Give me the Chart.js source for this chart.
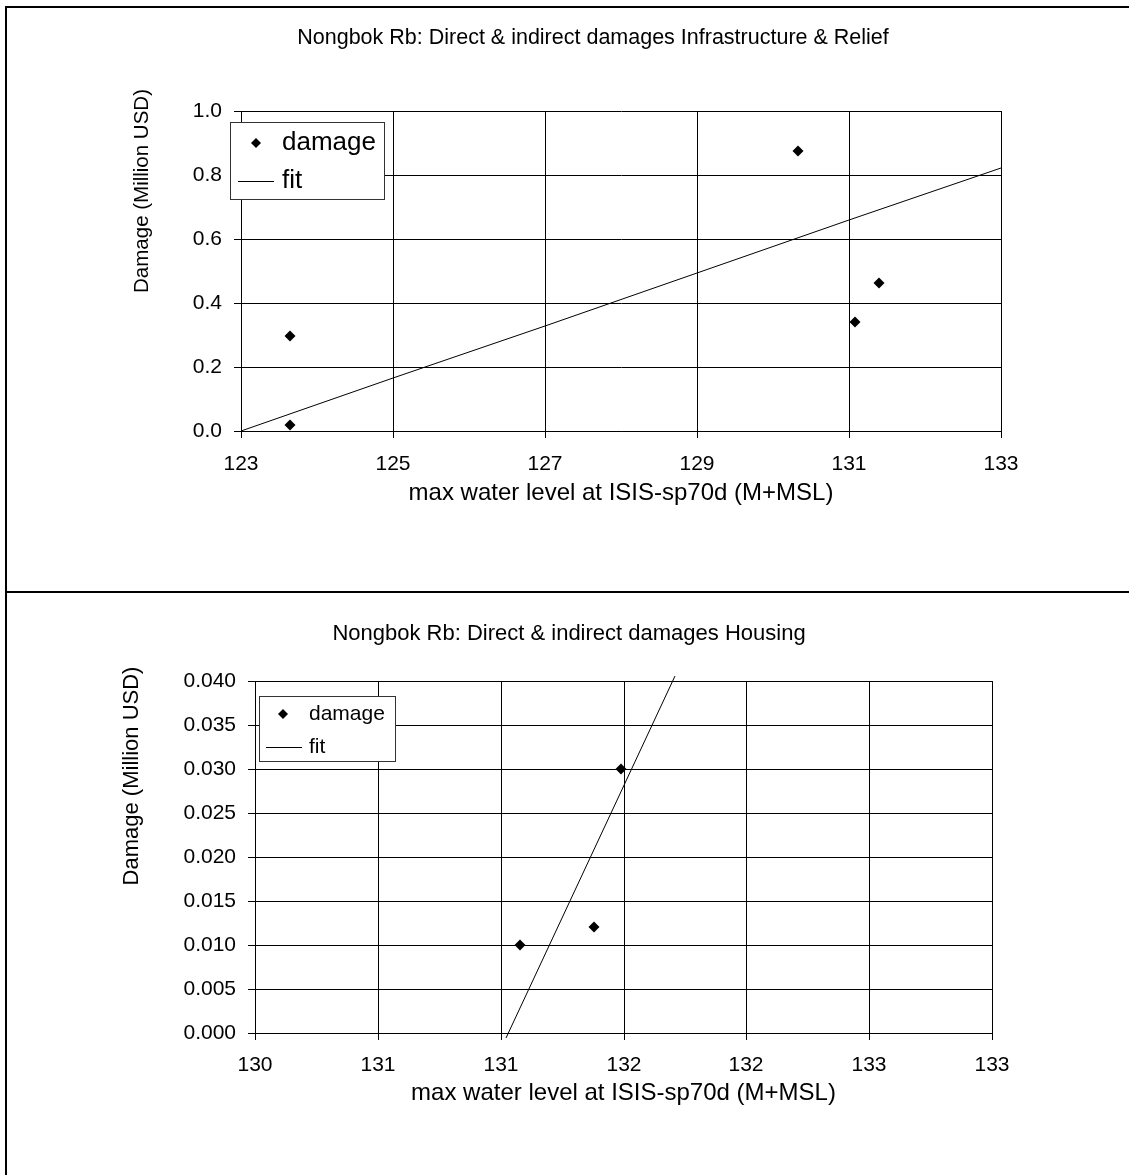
<!DOCTYPE html>
<html>
<head>
<meta charset="utf-8">
<script src="https://cdn.jsdelivr.net/npm/chart.js@4.4.1/dist/chart.umd.min.js"></script>
<style>
    html, body { margin: 0; padding: 0; background: #fff; }
    #page { position: relative; width: 1129px; height: 1175px; overflow: hidden; }
    #chartFirst { position: absolute; left: 0; top: 0; }
    #chartSecond { position: absolute; left: 0; top: 593px; }
    .rule { position: absolute; background: #000; }
</style>
</head>
<body>
<div id="page">
    <canvas id="chartFirst" width="1129" height="592"></canvas>
    <canvas id="chartSecond" width="1129" height="582"></canvas>
    <div class="rule" style="left:5px; top:6px; width:1130px; height:2px;"></div>
    <div class="rule" style="left:5px; top:6px; width:2px; height:1175px;"></div>
    <div class="rule" style="left:5px; top:591px; width:1130px; height:2px;"></div>
</div>
<script>
// upper chart: infrastructure & relief
const infraTitle = 'Nongbok Rb: Direct & indirect damages Infrastructure & Relief';
const infraLevel = [123.65, 123.65, 130.33, 131.08, 131.39];
const infraDamage = [0.298, 0.019, 0.875, 0.340, 0.463];
const infraFitLevel = [123, 125, 127, 129, 131, 133];
const infraFitDamage = [0.000, 0.167, 0.328, 0.494, 0.660, 0.823];
const infraXTicks = ['123', '125', '127', '129', '131', '133'];
const infraYTicks = ['0.0', '0.2', '0.4', '0.6', '0.8', '1.0'];

// lower chart: housing
const housingTitle = 'Nongbok Rb: Direct & indirect damages Housing';
const housingLevel = [131.08, 131.38, 131.49];
const housingDamage = [0.010, 0.012, 0.030];
const housingFitLevel = [131.02, 131.71];
const housingFitDamage = [-0.0006, 0.0406];
const housingXTicks = ['130', '131', '131', '132', '132', '133', '133'];
const housingYTicks = ['0.000', '0.005', '0.010', '0.015', '0.020', '0.025', '0.030', '0.035', '0.040'];

const seriesNames = ['damage', 'fit'];
const xTitle = 'max water level at ISIS-sp70d (M+MSL)';
const yTitle = 'Damage (Million USD)';

const FONT = 'Arial, "Liberation Sans", sans-serif';
Chart.defaults.font.family = FONT;
Chart.defaults.color = '#000';

// draws the rotated y title and the boxed legend inside the plot
function overlay(o) {
    return {
        id: 'overlay',
        afterDraw(chart) {
            var ctx = chart.ctx;
            ctx.save();
            ctx.fillStyle = '#000';
            ctx.translate(o.yx, o.yy);
            ctx.rotate(-Math.PI / 2);
            ctx.font = o.ySize + 'px ' + FONT;
            ctx.textAlign = 'center';
            ctx.textBaseline = 'middle';
            ctx.fillText(yTitle, 0, 0);
            ctx.restore();

            var b = o.box;
            ctx.save();
            ctx.fillStyle = '#fff';
            ctx.fillRect(b[0], b[1], b[2] - b[0], b[3] - b[1]);
            ctx.strokeStyle = '#333';
            ctx.lineWidth = 1;
            ctx.strokeRect(b[0] + 0.5, b[1] + 0.5, b[2] - b[0], b[3] - b[1]);
            ctx.fillStyle = '#000';
            ctx.beginPath();
            ctx.moveTo(o.mark[0], o.mark[1] - 5);
            ctx.lineTo(o.mark[0] + 5, o.mark[1]);
            ctx.lineTo(o.mark[0], o.mark[1] + 5);
            ctx.lineTo(o.mark[0] - 5, o.mark[1]);
            ctx.closePath();
            ctx.fill();
            ctx.strokeStyle = '#000';
            ctx.beginPath();
            ctx.moveTo(o.line[0], o.line[2] + 0.5);
            ctx.lineTo(o.line[1], o.line[2] + 0.5);
            ctx.stroke();
            ctx.font = o.lSize + 'px ' + FONT;
            ctx.textAlign = 'left';
            ctx.textBaseline = 'middle';
            ctx.fillText(chart.data.datasets[0].label, o.textX, o.mark[1]);
            ctx.fillText(chart.data.datasets[1].label, o.textX, o.line[2]);
            ctx.restore();
        }
    };
}

function points(xs, ys) {
    return xs.map((x, i) => ({ x: x, y: ys[i] }));
}

function axis(min, max, step, labels, tickPad, fit) {
    return {
        type: 'linear',
        min: min,
        max: max,
        alignToPixels: true,
        ticks: { stepSize: step, padding: tickPad, font: { size: 21 }, color: '#000',
                 callback: (v, i) => labels[i] },
        grid: { color: '#000', lineWidth: 1, tickLength: 7 },
        border: { color: '#000', width: 1 },
        afterFit: fit
    };
}

class Damages {
    constructor() {
        this.initFirstDiagram();
        this.initSecondDiagram();
    }

    initFirstDiagram() {
        var ctx = document.getElementById('chartFirst').getContext('2d');
        var x = axis(123, 133, 2, infraXTicks, 14, s => { s.height = 161; });
        x.title = { display: true, text: xTitle, font: { size: 24 }, padding: { top: 0, bottom: 84.6 } };
        var y = axis(0, 1, 0.2, infraYTicks, 12, s => { s.width = 56; });

        new Chart(ctx, {
            type: 'scatter',
            data: {
                datasets: [
                    { label: seriesNames[0], data: points(infraLevel, infraDamage),
                      pointStyle: 'rectRot', pointRadius: 5.5, backgroundColor: '#000', borderColor: '#000', borderWidth: 0 },
                    { label: seriesNames[1], data: points(infraFitLevel, infraFitDamage),
                      showLine: true, pointRadius: 0, borderColor: '#000', borderWidth: 1 }
                ]
            },
            options: {
                responsive: false,
                animation: false,
                events: [],
                layout: { padding: { left: 185, right: 128, top: 0, bottom: 0 } },
                plugins: {
                    legend: { display: false },
                    tooltip: { enabled: false },
                    title: { display: true, text: infraTitle, color: '#000',
                             font: { size: 21.5, weight: 'normal' }, padding: { top: 25, bottom: 60.2 } }
                },
                scales: { x: x, y: y }
            },
            plugins: [overlay({ yx: 142, yy: 191, ySize: 20.5,
                                box: [230, 122, 384, 199], mark: [256, 143], line: [238, 274, 181],
                                textX: 282, lSize: 26 })]
        });
    }

    initSecondDiagram() {
        var ctx = document.getElementById('chartSecond').getContext('2d');
        var x = axis(130, 133, 0.5, housingXTicks, 13, s => { s.height = 142; });
        x.title = { display: true, text: xTitle, font: { size: 24 }, padding: { top: 0, bottom: 67.6 } };
        var y = axis(0, 0.04, 0.005, housingYTicks, 12, s => { s.width = 109; });

        new Chart(ctx, {
            type: 'scatter',
            data: {
                datasets: [
                    { label: seriesNames[0], data: points(housingLevel, housingDamage),
                      pointStyle: 'rectRot', pointRadius: 5.5, backgroundColor: '#000', borderColor: '#000', borderWidth: 0 },
                    { label: seriesNames[1], data: points(housingFitLevel, housingFitDamage),
                      showLine: true, pointRadius: 0, borderColor: '#000', borderWidth: 1, clip: false }
                ]
            },
            options: {
                responsive: false,
                animation: false,
                events: [],
                layout: { padding: { left: 146, right: 137, top: 0, bottom: 0 } },
                plugins: {
                    legend: { display: false },
                    tooltip: { enabled: false },
                    title: { display: true, text: housingTitle, color: '#000',
                             font: { size: 22, weight: 'normal' }, padding: { top: 28, bottom: 33.6 } }
                },
                scales: { x: x, y: y }
            },
            plugins: [overlay({ yx: 132, yy: 183, ySize: 22,
                                box: [259, 103, 395, 168], mark: [283, 121], line: [266, 302, 154],
                                textX: 309, lSize: 21 })]
        });
    }
}

new Damages();
</script>
</body>
</html>
